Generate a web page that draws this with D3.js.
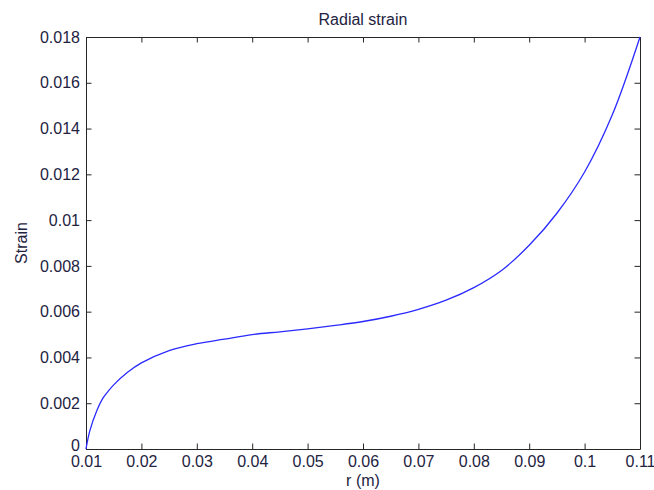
<!DOCTYPE html>
<html>
<head>
<meta charset="utf-8">
<script src="https://cdn.jsdelivr.net/npm/d3@7"></script>
<style>
  html, body { margin: 0; padding: 0; background: #fff; }
  text { font-family: "Liberation Sans", Arial, sans-serif; fill: #23233f; }
</style>
</head>
<body>
<div id="chart"></div>
<script>
// radius (m) and radial strain
const radius = [0.010, 0.0107, 0.012, 0.013, 0.014, 0.015, 0.0175, 0.020, 0.025, 0.030, 0.035, 0.040,
    0.045, 0.050, 0.055, 0.060, 0.065, 0.070, 0.075, 0.080, 0.085, 0.090, 0.095, 0.100, 0.105, 0.110];
const strain = [0, 0.0008, 0.0017, 0.0022, 0.00252, 0.0028, 0.00335, 0.00376, 0.0043, 0.0046, 0.0048, 0.0050,
    0.00512, 0.00525, 0.0054, 0.00557, 0.0058, 0.0061, 0.0065, 0.00705, 0.0078, 0.0089, 0.0103, 0.0121, 0.0146, 0.0180];
const xTicks = [0.01, 0.02, 0.03, 0.04, 0.05, 0.06, 0.07, 0.08, 0.09, 0.1, 0.11];
const yTicks = [0, 0.002, 0.004, 0.006, 0.008, 0.01, 0.012, 0.014, 0.016, 0.018];

const width = 654, height = 490;
const margin = {top: 37, right: 14, bottom: 41, left: 86};
const fontSize = 16;

const svg = d3.select("#chart").append("svg")
    .attr("width", width)
    .attr("height", height);

const x = d3.scaleLinear().domain([0.01, 0.11]).range([margin.left, width - margin.right]);
const y = d3.scaleLinear().domain([0, 0.018]).range([height - margin.bottom, margin.top]);

const fmt = d => String(+d.toFixed(4));

// box axes, MATLAB style ticks pointing inward
function styleAxis(g) {
    g.selectAll(".domain").attr("stroke", "#262626").attr("stroke-width", 1);
    g.selectAll(".tick line").attr("stroke", "#262626");
    g.selectAll("text").style("font-size", fontSize + "px").attr("fill", "#23233f");
}

svg.append("g")
    .attr("transform", `translate(0,${height - margin.bottom})`)
    .call(d3.axisBottom(x).tickValues(xTicks).tickFormat(fmt).tickSizeInner(-5.5).tickSizeOuter(0).tickPadding(7))
    .call(styleAxis);

svg.append("g")
    .attr("transform", `translate(0,${margin.top})`)
    .call(d3.axisTop(x).tickValues(xTicks).tickFormat("").tickSizeInner(-5.5).tickSizeOuter(0))
    .call(styleAxis);

svg.append("g")
    .attr("transform", `translate(${margin.left},0)`)
    .call(d3.axisLeft(y).tickValues(yTicks).tickFormat(fmt).tickSizeInner(-5.5).tickSizeOuter(0).tickPadding(6))
    .call(styleAxis)
    .call(g => g.selectAll(".tick text").filter(d => d === 0).attr("dy", "0.1em"));

svg.append("g")
    .attr("transform", `translate(${width - margin.right},0)`)
    .call(d3.axisRight(y).tickValues(yTicks).tickFormat("").tickSizeInner(-5.5).tickSizeOuter(0))
    .call(styleAxis);

const line = d3.line()
    .x((d, i) => x(radius[i]))
    .y(d => y(d))
    .curve(d3.curveCatmullRom.alpha(0.5));

svg.append("path")
    .datum(strain)
    .attr("d", line)
    .attr("fill", "none")
    .attr("stroke", "#2a2aff")
    .attr("stroke-width", 1.3);

const cx = (margin.left + width - margin.right) / 2;
const cy = (margin.top + height - margin.bottom) / 2;

svg.append("text")
    .attr("x", cx).attr("y", 25)
    .attr("text-anchor", "middle")
    .style("font-size", fontSize + "px")
    .text("Radial strain");

svg.append("text")
    .attr("x", cx).attr("y", 486)
    .attr("text-anchor", "middle")
    .style("font-size", fontSize + "px")
    .text("r (m)");

svg.append("text")
    .attr("transform", `translate(27,${cy}) rotate(-90)`)
    .attr("text-anchor", "middle")
    .style("font-size", fontSize + "px")
    .text("Strain");
</script>
</body>
</html>
